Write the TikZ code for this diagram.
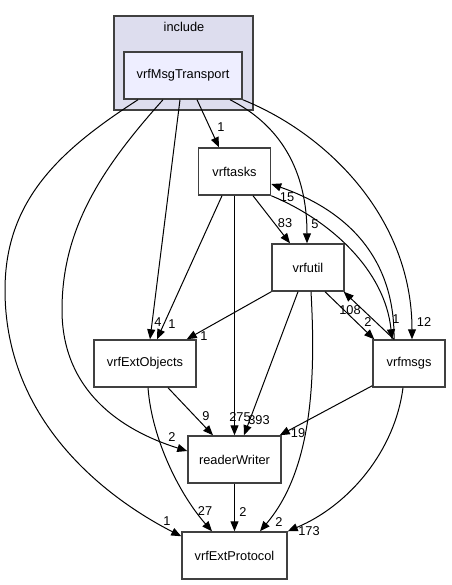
\documentclass[tikz,border=0pt]{standalone}
\usepackage{fontspec}
\setmainfont{Liberation Sans}
\usepackage{tikz}
\usetikzlibrary{arrows.meta, calc}

\begin{document}
\begin{tikzpicture}[x=0.75pt, y=-0.75pt,
    box/.style={draw=black!75, line width=1.1pt, inner sep=0pt, minimum height=35.25pt, font=\fontsize{9.6}{12}\selectfont},
    edge/.style={draw=black, line width=0.75pt, -{Triangle[length=7.5pt,width=6pt]}},
    lbl/.style={inner sep=0pt, font=\fontsize{9.6}{12}\selectfont}]
        \useasboundingbox (0,0) rectangle (451,585);

        \node[draw=black!75, line width=1.1pt, fill={rgb,255:red,221;green,221;blue,238}, minimum width=104.25pt, minimum height=70.5pt, inner sep=0pt] (include) at (183.5,63) {};
        \node[lbl] (includelbl) at (184,27) {include};
        \node[box, fill={rgb,255:red,238;green,238;blue,255}, minimum width=88.5pt] (transport) at (183,75.5) {vrfMsgTransport};
        \node[box, minimum width=54pt] (tasks) at (234.5,171.5) {vrftasks};
        \node[box, minimum width=54pt] (util) at (308,267.5) {vrfutil};
        \node[box, minimum width=76.5pt] (extobj) at (145,363.5) {vrfExtObjects};
        \node[box, minimum width=54pt] (msgs) at (409,363.5) {vrfmsgs};
        \node[box, minimum width=69.75pt] (rw) at (234.5,459.5) {readerWriter};
        \node[box, minimum width=78.75pt] (extproto) at (234.5,555.5) {vrfExtProtocol};

        \draw[edge] ($(transport.south)+(-45,0)$) .. controls (60,150) and (5,200) .. (5,290) .. controls (5,430) and (120,505) .. ($(extproto.north west)+(0,5)$);
        \draw[edge] ($(transport.south)+(-20,0)$) .. controls (100,170) and (62,230) .. (62,310) .. controls (62,390) and (120,430) .. ($(rw.west)+(0,-8.5)$);
        \draw[edge] ($(transport.south)+(-3,0)$) -- ($(extobj.north)+(5,0)$);
        \draw[edge] ($(transport.south)+(14,0)$) -- ($(tasks.north)+(-15.5,0)$);
        \draw[edge] ($(transport.south)+(47,0)$) .. controls (280,125) and (307,170) .. ($(util.north)+(-1,0)$);
        \draw[edge] (transport.south east) .. controls (330,135) and (412,220) .. ($(msgs.north)+(3,0)$);

        \draw[edge] ($(tasks.south)+(-12.5,0)$) -- ($(extobj.north)+(12,0)$);
        \draw[edge] (tasks.south) -- (rw.north);
        \draw[edge] ($(tasks.south)+(18.5,0)$) -- ($(util.north)+(-18,0)$);
        \draw[edge] ($(msgs.north)+(-15,0)$) .. controls (395,270) and (360,215) .. ($(tasks.east)+(0,12.5)$);
        \draw[edge] (tasks.south east) .. controls (330,220) and (385,270) .. ($(msgs.north)+(-17,0)$);

        \draw[edge] (util.south west) -- ($(extobj.north east)+(-10,0)$);
        \draw[edge] ($(util.south)+(-10,0)$) -- ($(rw.north)+(9.5,0)$);
        \draw[edge] ($(util.south)+(3,0)$) .. controls (316,380) and (312,470) .. ($(extproto.north)+(25.5,0)$);
        \draw[edge] ($(util.south)+(17,0)$) -- ($(msgs.north west)+(2,0)$);
        \draw[edge] ($(msgs.north)+(-15,0)$) -- ($(util.south east)+(-1,0)$);

        \draw[edge] ($(extobj.south)+(23,0)$) -- ($(rw.north)+(-21.5,0)$);
        \draw[edge] ($(extobj.south)+(3,0)$) .. controls (152,440) and (180,495) .. ($(extproto.north)+(-22.5,0)$);
        \draw[edge] ($(msgs.south west)+(0,-2)$) -- ($(rw.north east)+(-2,0)$);
        \draw[edge] ($(msgs.south)+(-6,0)$) .. controls (395,450) and (350,505) .. (extproto.north east);
        \draw[edge] (rw.south) -- (extproto.north);

        \node[lbl] (l1) at (167,521) {1};
        \node[lbl] (l2) at (172,437) {2};
        \node[lbl] (l3) at (158,322) {4};
        \node[lbl] (l4) at (221,127) {1};
        \node[lbl] (l5) at (315,224) {5};
        \node[lbl] (l6) at (424,322) {12};
        \node[lbl] (l7) at (172,324) {1};
        \node[lbl] (l8) at (240,417) {275};
        \node[lbl] (l9) at (285,223) {83};
        \node[lbl] (l10) at (287,197) {15};
        \node[lbl] (l11) at (396,319) {1};
        \node[lbl] (l12) at (204,336) {1};
        \node[lbl] (l13) at (259,420) {393};
        \node[lbl] (l14) at (279,522) {2};
        \node[lbl] (l15) at (368,322) {2};
        \node[lbl] (l16) at (350,310) {108};
        \node[lbl] (l17) at (206,416) {9};
        \node[lbl] (l18) at (205,511) {27};
        \node[lbl] (l19) at (298,433) {19};
        \node[lbl] (l20) at (309,531) {173};
        \node[lbl] (l21) at (243,512) {2};
    \end{tikzpicture}
\end{document}
